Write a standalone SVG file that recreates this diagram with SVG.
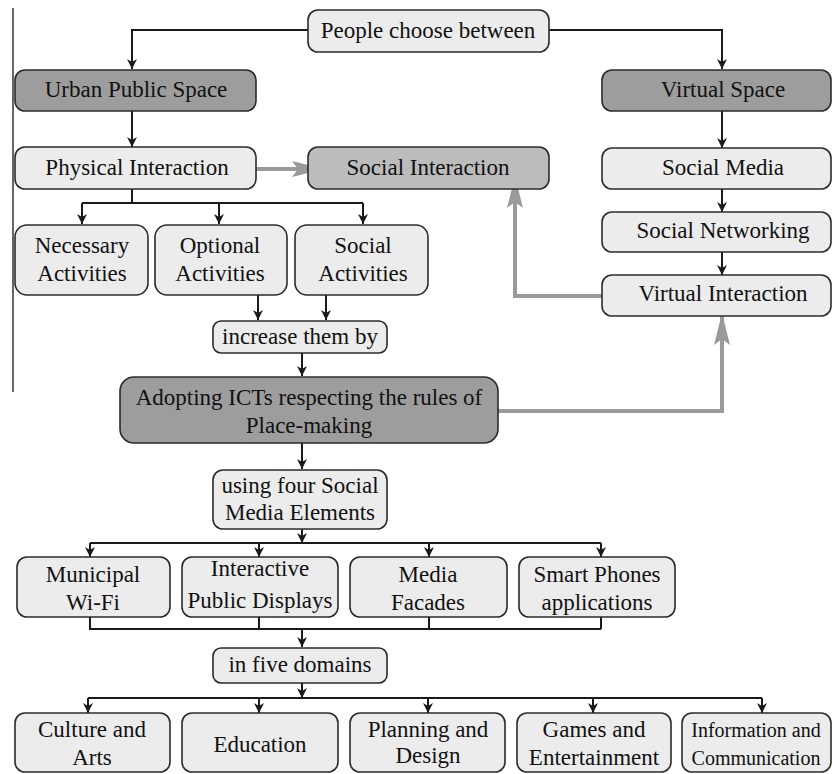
<svg xmlns="http://www.w3.org/2000/svg" width="833" height="774" viewBox="0 0 833 774" font-family="'Liberation Serif', 'DejaVu Serif', serif">
<defs>
<style>
.box{stroke:#2b2b2b;stroke-width:1.6}
.lt{fill:#ececec}
.md{fill:#bcbcbc}
.dk{fill:#9d9d9d}
text{font-family:'Liberation Serif','Times New Roman','DejaVu Serif',serif;font-size:23px;fill:#111;text-anchor:middle}
.c{fill:none;stroke:#1a1a1a;stroke-width:2}
.g{fill:none;stroke:#9a9a9a;stroke-width:4}
</style>
<marker id="ah" viewBox="0 0 10 10" refX="10" refY="5" markerWidth="10" markerHeight="10" markerUnits="userSpaceOnUse" orient="auto">
<path d="M0,0 L10,5 L0,10 L3,5 Z" fill="#1a1a1a"/>
</marker>
<marker id="gh" viewBox="0 0 32 16" refX="32" refY="8" markerWidth="32" markerHeight="16" markerUnits="userSpaceOnUse" orient="auto">
<path d="M0,0 L32,8 L0,16 L6,8 Z" fill="#9a9a9a"/>
</marker>
</defs>
<rect width="833" height="774" fill="#ffffff"/>
<line x1="13" y1="8" x2="13" y2="392" stroke="#666" stroke-width="2"/>

<g id="connectors">
<path class="c" d="M308,30 H132 V69" marker-end="url(#ah)"/>
<path class="c" d="M549,30 H722 V69" marker-end="url(#ah)"/>
<path class="c" d="M132,104 V147" marker-end="url(#ah)"/>
<path class="c" d="M722,104 V148" marker-end="url(#ah)"/>
<path class="c" d="M722,181 V212" marker-end="url(#ah)"/>
<path class="c" d="M722,245 V275" marker-end="url(#ah)"/>
<path class="c" d="M132,181 V203"/>
<path class="c" d="M82,203 H363"/>
<path class="c" d="M82,203 V224" marker-end="url(#ah)"/>
<path class="c" d="M219,203 V224" marker-end="url(#ah)"/>
<path class="c" d="M363,203 V224" marker-end="url(#ah)"/>
<path class="c" d="M258,286 V320" marker-end="url(#ah)"/>
<path class="c" d="M326,286 V320" marker-end="url(#ah)"/>
<path class="c" d="M302,346 V376" marker-end="url(#ah)"/>
<path class="c" d="M302,437 V469" marker-end="url(#ah)"/>
<path class="c" d="M302,522 V543" marker-end="url(#ah)"/>
<path class="c" d="M90,543 H601"/>
<path class="c" d="M90,543 V557" marker-end="url(#ah)"/>
<path class="c" d="M259,543 V557" marker-end="url(#ah)"/>
<path class="c" d="M429,543 V557" marker-end="url(#ah)"/>
<path class="c" d="M601,543 V557" marker-end="url(#ah)"/>
<path class="c" d="M90,612 V629 H601 M259,612 V629 M429,612 V629 M601,612 V629"/>
<path class="c" d="M302,629 V647" marker-end="url(#ah)"/>
<path class="c" d="M302,676 V698" marker-end="url(#ah)"/>
<path class="c" d="M88,698 H762"/>
<path class="c" d="M88,698 V713" marker-end="url(#ah)"/>
<path class="c" d="M259,698 V713" marker-end="url(#ah)"/>
<path class="c" d="M428,698 V713" marker-end="url(#ah)"/>
<path class="c" d="M593,698 V713" marker-end="url(#ah)"/>
<path class="c" d="M762,698 V713" marker-end="url(#ah)"/>
<path class="g" d="M250,169 H324" marker-end="url(#gh)"/>
<path class="g" d="M613,296 H515 V176" marker-end="url(#gh)"/>
<path class="g" d="M490,411 H722 V313" marker-end="url(#gh)"/>
</g>

<g id="people"><rect class="box lt" x="308" y="10" width="241" height="42" rx="10"/><text x="428" y="38">People choose between</text></g>
<g id="urban"><rect class="box dk" x="15" y="70" width="241" height="41" rx="10"/><text x="136" y="97">Urban Public Space</text></g>
<g id="virtual"><rect class="box dk" x="602" y="70" width="229" height="41" rx="10"/><text x="723" y="97">Virtual Space</text></g>
<g id="physical"><rect class="box lt" x="15" y="147" width="241" height="42" rx="10"/><text x="137" y="175">Physical Interaction</text></g>
<g id="social-interaction"><rect class="box md" x="308" y="147" width="241" height="42" rx="10"/><text x="428" y="175">Social Interaction</text></g>
<g id="social-media"><rect class="box lt" x="602" y="148" width="229" height="41" rx="10"/><text x="723" y="175">Social Media</text></g>
<g id="social-networking"><rect class="box lt" x="602" y="212" width="229" height="40" rx="10"/><text x="723" y="238">Social Networking</text></g>
<g id="virtual-interaction"><rect class="box lt" x="602" y="275" width="229" height="41" rx="10"/><text x="723" y="301">Virtual Interaction</text></g>
<g id="necessary"><rect class="box lt" x="15" y="225" width="133" height="70" rx="12"/><text x="82" y="253">Necessary</text><text x="82" y="281">Activities</text></g>
<g id="optional"><rect class="box lt" x="155" y="225" width="132" height="70" rx="12"/><text x="220" y="253">Optional</text><text x="220" y="281">Activities</text></g>
<g id="social-activities"><rect class="box lt" x="295" y="225" width="133" height="70" rx="12"/><text x="363" y="253">Social</text><text x="363" y="281">Activities</text></g>
<g id="increase"><rect class="box lt" x="213" y="321" width="174" height="32" rx="8"/><text x="300" y="344">increase them by</text></g>
<g id="adopting"><rect class="box dk" x="120" y="377" width="378" height="66" rx="14"/><text x="309" y="405">Adopting ICTs respecting the rules of</text><text x="309" y="433">Place-making</text></g>
<g id="using"><rect class="box lt" x="213" y="470" width="174" height="59" rx="10"/><text x="300" y="493">using four Social</text><text x="300" y="520">Media Elements</text></g>
<g id="wifi"><rect class="box lt" x="17" y="557" width="153" height="60" rx="10"/><text x="93" y="582">Municipal</text><text x="93" y="610">Wi-Fi</text></g>
<g id="displays"><rect class="box lt" x="182" y="557" width="156" height="60" rx="10"/><text x="260" y="576">Interactive</text><text x="260" y="608">Public Displays</text></g>
<g id="facades"><rect class="box lt" x="350" y="557" width="157" height="60" rx="10"/><text x="428" y="582">Media</text><text x="428" y="610">Facades</text></g>
<g id="phones"><rect class="box lt" x="519" y="557" width="156" height="60" rx="10"/><text x="597" y="582">Smart Phones</text><text x="597" y="610">applications</text></g>
<g id="domains"><rect class="box lt" x="213" y="648" width="174" height="35" rx="8"/><text x="300" y="672">in five domains</text></g>
<g id="culture"><rect class="box lt" x="15" y="713" width="155" height="59" rx="10"/><text x="92" y="737">Culture and</text><text x="92" y="765">Arts</text></g>
<g id="education"><rect class="box lt" x="182" y="713" width="156" height="59" rx="10"/><text x="260" y="752">Education</text></g>
<g id="planning"><rect class="box lt" x="350" y="713" width="155" height="59" rx="10"/><text x="428" y="737">Planning and</text><text x="428" y="763">Design</text></g>
<g id="games"><rect class="box lt" x="517" y="713" width="154" height="59" rx="10"/><text x="594" y="737">Games and</text><text x="594" y="765">Entertainment</text></g>
<g id="information"><rect class="box lt" x="682" y="713" width="149" height="59" rx="10"/><text x="756" y="737" style="font-size:20px">Information and</text><text x="756" y="765" style="font-size:20px">Communication</text></g>
</svg>
